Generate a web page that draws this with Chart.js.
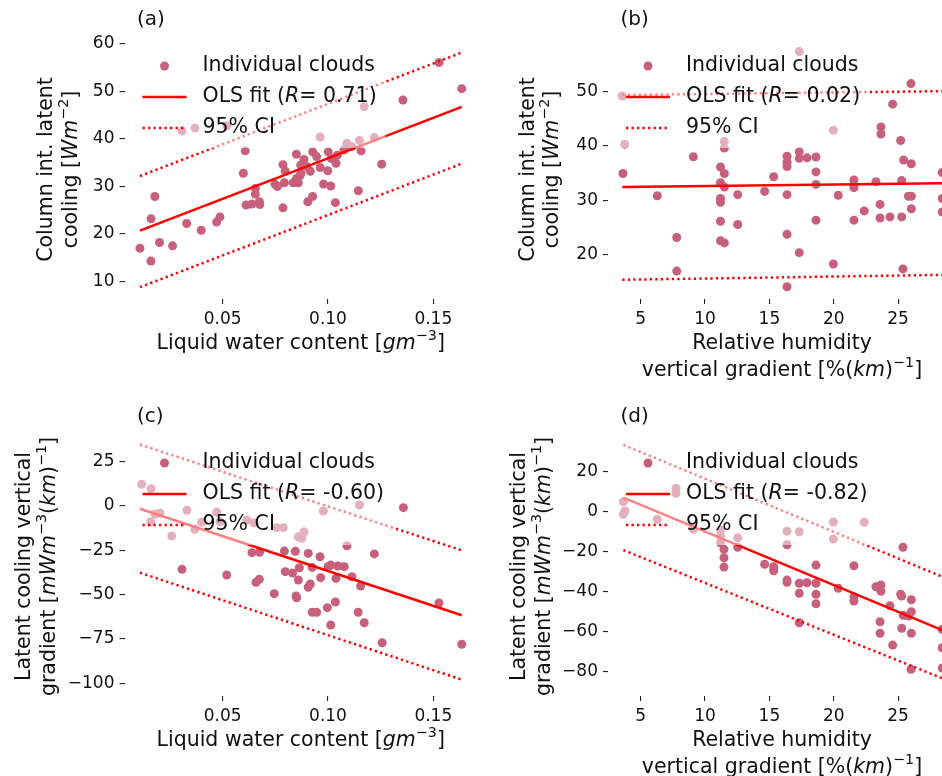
<!DOCTYPE html>
<html>
<head>
<meta charset="utf-8">
<script src="https://cdn.jsdelivr.net/npm/chart.js@4.4.1/dist/chart.umd.min.js"></script>
<style>
  html, body { margin: 0; padding: 0; background: #fff; overflow: hidden; }
  body { width: 942px; height: 776px; position: relative; }
  canvas { position: absolute; }
</style>
</head>
<body>
<canvas id="panelA" width="490" height="388" style="left:0px;top:0px"></canvas>
<canvas id="panelB" width="529" height="388" style="left:471px;top:0px"></canvas>
<canvas id="panelC" width="490" height="388" style="left:0px;top:388px"></canvas>
<canvas id="panelD" width="529" height="388" style="left:471px;top:388px"></canvas>
<script>
// ---- tick labels ----
const lwcTicks = [0.05, 0.10, 0.15];
const rhTicks = [5, 10, 15, 20, 25];
const coolTicksA = [10, 20, 30, 40, 50, 60];
const coolTicksB = [20, 30, 40, 50];
const gradTicksC = [-100, -75, -50, -25, 0, 25];
const gradTicksD = [-80, -60, -40, -20, 0, 20];

// ---- (a) LWC vs column latent cooling ----
const aX = [0.1527, 0.1635, 0.1356, 0.1172, 0.0307, 0.0368, 0.0519, 0.0963, 0.1090, 0.1149, 0.1220, 0.1112,
  0.0607, 0.0598, 0.0178, 0.0160, 0.0329, 0.0471, 0.0487, 0.0398, 0.0655, 0.0655, 0.0611, 0.0639, 0.0674,
  0.0676, 0.0786, 0.0748, 0.0760, 0.0793, 0.0786, 0.0797, 0.0850, 0.0835, 0.0847, 0.0859, 0.0851, 0.0867,
  0.0872, 0.0870, 0.0886, 0.0899, 0.0916, 0.0927, 0.0946, 0.0963, 0.0979, 0.0999, 0.1013, 0.1001, 0.1016,
  0.1038, 0.1044, 0.1076, 0.1157, 0.1255, 0.1144, 0.1035, 0.0904, 0.0927, 0.0107, 0.0159, 0.0200, 0.0262];
const aY = [56.1, 50.6, 48.2, 46.8, 41.7, 42.3, 42.8, 40.4, 39.1, 39.7, 40.3, 38.4,
  37.5, 32.8, 27.9, 23.2, 22.2, 22.5, 23.6, 20.8, 29.6, 28.4, 26.1, 26.3, 26.8,
  26.2, 25.5, 30.5, 30.0, 30.8, 34.6, 33.2, 36.8, 30.8, 31.0, 30.8, 31.7, 32.3,
  32.8, 34.5, 35.7, 34.2, 33.2, 37.3, 36.3, 34.0, 30.5, 33.3, 30.1, 37.3, 35.9,
  34.9, 36.6, 37.7, 37.5, 34.7, 29.1, 26.6, 26.8, 27.9, 17.0, 14.3, 18.2, 17.5];
const aLineX = [0.0107, 0.1635];
const aFit = [20.7, 46.75];
const aCiHi = [32.2, 58.2];
const aCiLo = [8.8, 34.8];

// ---- (b) RH gradient vs column latent cooling ----
const bX = [17.32, 26.0, 3.57, 24.58, 3.76, 11.5, 11.5, 19.97, 23.67, 23.67, 25.2, 9.09, 3.62, 11.2, 11.5,
  11.2, 11.5, 6.29, 11.2, 11.2, 11.2, 11.2, 11.5, 12.54, 12.54, 7.8, 7.8, 14.63, 15.33, 16.37, 16.37, 16.37,
  17.32, 17.32, 17.92, 18.62, 18.62, 18.62, 16.37, 16.37, 17.32, 16.37, 18.62, 20.35, 19.97, 21.57, 21.57,
  21.57, 21.57, 22.37, 23.28, 23.6, 23.6, 24.37, 25.28, 25.28, 25.43, 26.03, 25.8, 26.03, 26.03, 25.38,
  28.43, 28.43, 28.43];
const bY = [57.4, 51.5, 49.2, 47.7, 40.3, 40.8, 39.6, 42.9, 43.5, 42.2, 41.0, 38.0, 34.9, 36.1, 34.9,
  33.2, 32.4, 30.8, 30.3, 29.6, 26.1, 22.5, 22.1, 31.0, 25.5, 23.1, 16.9, 31.6, 34.3, 38.1, 37.0, 36.2,
  38.9, 37.7, 37.8, 37.95, 35.2, 32.9, 31.0, 23.7, 20.3, 14.0, 26.3, 30.9, 18.2, 33.7, 32.8,
  32.3, 26.3, 28.0, 33.4, 29.2, 26.7, 26.9, 26.9, 33.6, 37.4, 36.7, 30.7, 30.7, 28.4, 17.3,
  35.1, 30.3, 27.8];
const bLineX = [3.57, 28.43];
const bFit = [32.4, 33.1];
const bCiHi = [49.4, 50.1];
const bCiLo = [15.3, 16.2];

// ---- (c) LWC vs latent cooling vertical gradient ----
const cX = [0.0115, 0.0160, 0.0202, 0.0179, 0.0158, 0.0258, 0.0330, 0.0368, 0.0400, 0.0471, 0.0487, 0.0614,
  0.0650, 0.0756, 0.0788, 0.0859, 0.0875, 0.0886, 0.0978, 0.1149, 0.1358, 0.0307, 0.0519, 0.0639, 0.0675,
  0.0658, 0.0674, 0.0745, 0.0793, 0.0797, 0.0832, 0.0845, 0.0864, 0.0859, 0.0848, 0.0851, 0.0906, 0.0925,
  0.0916, 0.0906, 0.0925, 0.0946, 0.0962, 0.0965, 0.1001, 0.1013, 0.1038, 0.1047, 0.1077, 0.1090, 0.1114,
  0.1155, 0.1035, 0.0997, 0.1013, 0.1143, 0.1172, 0.1220, 0.1257, 0.1527, 0.1635];
const cY = [12.3, 9.8, -4.1, -4.5, -9.0, -16.9, -2.4, -13.1, -9.2, -3.4, -8.8, -7.9,
  -9.4, -12.2, -12.2, -17.3, -18.2, -14.6, -2.8, 0.6, -0.9, -35.7, -38.9, -26.3, -26.1,
  -43.0, -41.3, -49.4, -25.4, -37.0, -37.8, -25.5, -34.8, -41.7, -50.7, -51.7, -26.7, -34.6,
  -44.0, -45.8, -59.9, -59.9, -28.6, -40.4, -34.2, -33.3, -40.8, -33.8, -34.2, -22.4, -39.9,
  -45.1, -54.1, -57.3, -67.1, -59.9, -65.8, -27.0, -77.1, -54.7, -78.0];
const cLineX = [0.0107, 0.1635];
const cFit = [-1.5, -61.6];
const cCiHi = [34.7, -25.0];
const cCiLo = [-37.6, -97.9];

// ---- (d) RH gradient vs latent cooling vertical gradient ----
const dX = [7.74, 7.74, 3.65, 3.78, 3.65, 6.29, 9.09, 11.2, 11.2, 11.2, 11.47, 11.47, 11.47, 12.54, 12.54,
  16.37, 17.32, 16.37, 19.97, 19.97, 22.37, 25.38, 14.63, 15.33, 15.33, 16.37, 16.37, 17.32, 17.92, 18.62,
  18.62, 18.62, 18.62, 17.32, 17.32, 20.35, 21.57, 21.57, 21.57, 23.28, 23.67, 23.67, 24.37, 23.6, 23.6,
  24.58, 25.2, 25.28, 26.03, 26.03, 25.8, 25.4, 25.28, 26.03, 26.0, 28.43, 28.43, 28.43];
const dY = [11.7, 9.2, 5.0, 0.35, -1.3, -3.8, -8.8, -9.2, -12.2, -15.5, -18.8, -23.0, -27.7, -13.0, -17.8,
  -9.8, -10.0, -16.5, -5.2, -13.7, -5.3, -17.8, -26.3, -27.5, -29.5, -34.2, -35.3, -35.8, -35.5, -26.7,
  -35.8, -41.3, -46.0, -40.8, -55.5, -38.3, -27.0, -42.5, -44.7, -37.5, -36.7, -39.8, -47.0, -55.0, -60.8,
  -66.7, -41.3, -42.2, -44.0, -50.0, -52.2, -51.8, -58.3, -60.8, -78.8, -58.8, -68.0, -78.2];
const dLineX = [3.65, 28.43];
const dFit = [7.0, -59.2];
const dCiHi = [33.4, -32.5];
const dCiLo = [-19.2, -83.3];

const FAMILY = '"DejaVu Sans", sans-serif';
const DOT = '#c7607a';
const RED = '#ff0000';
const INK = '#111111';

function toXY(xs, ys) { return xs.map((x, i) => ({ x: x, y: ys[i] })); }

// rich text: strings are upright, {t, it} italic, {t, sup} superscript
function norm(s) { return typeof s === 'string' ? { t: s } : s; }
function segFont(s, size) {
    const sz = s.sup ? size * 0.7 : size;
    return (s.it ? 'italic ' : '') + sz + 'px ' + FAMILY;
}
function richWidth(ctx, segs, size) {
    let w = 0;
    segs.map(norm).forEach(s => { ctx.font = segFont(s, size); w += ctx.measureText(s.t).width; });
    return w;
}
function drawRich(ctx, segs, x, y, size, align) {
    const w = richWidth(ctx, segs, size);
    let cx = align === 'center' ? x - w / 2 : x;
    ctx.textBaseline = 'middle';
    ctx.textAlign = 'left';
    ctx.fillStyle = INK;
    segs.map(norm).forEach(s => {
        ctx.font = segFont(s, size);
        ctx.fillText(s.t, cx, s.sup ? y - size * 0.36 : y);
        cx += ctx.measureText(s.t).width;
    });
}

function decoPlugin(cfg) {
    return {
        id: 'deco',
        afterDatasetsDraw(chart) {
            // legend box (half transparent, lightens what lies under it)
            const ctx = chart.ctx, a = chart.chartArea;
            const L = a.left, T = a.top;
            const rows = [T + 26, T + 57, T + 88];
            const textX = L + 78;
            const labels = [
                ['Individual clouds'],
                ['OLS fit (', { t: 'R', it: true }, '= ' + cfg.r + ')'],
                ['95% CI']
            ];
            const w = Math.max(...labels.map(l => richWidth(ctx, l, 20.5)));
            ctx.save();
            ctx.fillStyle = 'rgba(255,255,255,0.5)';
            ctx.beginPath();
            ctx.roundRect(L + 10, T + 5, textX + w + 9 - (L + 10), rows[2] + 20 - (T + 5), 4);
            ctx.fill();
            ctx.fillStyle = DOT;
            ctx.beginPath();
            ctx.arc(L + 40, rows[0], 4.5, 0, Math.PI * 2);
            ctx.fill();
            ctx.strokeStyle = RED;
            ctx.lineWidth = 2.5;
            ctx.beginPath();
            ctx.moveTo(L + 18, rows[1]); ctx.lineTo(L + 62, rows[1]);
            ctx.stroke();
            ctx.setLineDash([2.3, 3.2]);
            ctx.beginPath();
            ctx.moveTo(L + 18, rows[2]); ctx.lineTo(L + 62, rows[2]);
            ctx.stroke();
            ctx.setLineDash([]);
            labels.forEach((l, i) => drawRich(ctx, l, textX, rows[i], 20.5, 'left'));
            ctx.restore();
        },
        afterDraw(chart) {
            const ctx = chart.ctx, a = chart.chartArea;
            ctx.save();
            drawRich(ctx, [cfg.tag], a.left + 12.5, a.top - 20, 20, 'left');
            const cx = (a.left + a.right) / 2;
            cfg.xTitle.forEach((line, i) => drawRich(ctx, line, cx, a.bottom + 45 + i * 27, 20.5, 'center'));
            const cy = (a.top + a.bottom) / 2;
            cfg.yTitle.forEach((line, i) => {
                ctx.save();
                ctx.translate(a.left + cfg.yOff[i], cy);
                ctx.rotate(-Math.PI / 2);
                drawRich(ctx, line, 0, 0, 20.5, 'center');
                ctx.restore();
            });
            ctx.restore();
        }
    };
}

function axis(min, max, ticks, fmt, fitFn) {
    return {
        type: 'linear', min: min, max: max,
        border: { display: false },
        grid: { drawOnChartArea: false, drawTicks: true, tickLength: 5, color: '#222', lineWidth: 1.1 },
        ticks: { font: { family: FAMILY, size: 17 }, color: INK, padding: 5, maxRotation: 0, autoSkip: false, callback: fmt },
        afterBuildTicks: s => { s.ticks = ticks.map(v => ({ value: v })); },
        afterFit: fitFn
    };
}

function makePanel(id, cfg) {
    const lineStyle = { showLine: true, borderColor: RED, borderWidth: 2.5, pointRadius: 0, clip: false };
    return new Chart(document.getElementById(id), {
        type: 'scatter',
        data: {
            datasets: [
                Object.assign({ data: toXY(cfg.lineX, cfg.fit), order: 1 }, lineStyle),
                Object.assign({ data: toXY(cfg.lineX, cfg.ciHi), borderDash: [2.3, 3.2], order: 2 }, lineStyle),
                Object.assign({ data: toXY(cfg.lineX, cfg.ciLo), borderDash: [2.3, 3.2], order: 3 }, lineStyle),
                { data: toXY(cfg.px, cfg.py), pointRadius: 4.5, backgroundColor: DOT, borderWidth: 0, order: 4, clip: false }
            ]
        },
        options: {
            responsive: false, animation: false, events: [], devicePixelRatio: 1,
            layout: { padding: { top: cfg.padTop, right: cfg.padRight, left: 0, bottom: 0 } },
            plugins: { legend: { display: false }, tooltip: { enabled: false } },
            scales: {
                x: axis(cfg.xMin, cfg.xMax, cfg.xTicks, cfg.xFmt, s => { s.height = cfg.xSpace; }),
                y: axis(cfg.yMin, cfg.yMax, cfg.yTicks, v => String(v).replace('-', '\u2212'), s => { s.width = cfg.ySpace; })
            }
        },
        plugins: [decoPlugin(cfg)]
    });
}

const lwcFmt = v => v.toFixed(2);
const rhFmt = v => String(v);
const lwcTitle = [['Liquid water content [', { t: 'gm', it: true }, { t: '\u22123', sup: true }, ']']];
const rhTitle = [['Relative humidity'], ['vertical gradient [%(', { t: 'km', it: true }, ')', { t: '\u22121', sup: true }, ']']];
const coolTitle = [['Column int. latent'], ['cooling [', { t: 'Wm', it: true }, { t: '\u22122', sup: true }, ']']];
const gradTitle = [['Latent cooling vertical'], ['gradient [', { t: 'mWm', it: true }, { t: '\u22123', sup: true }, '(', { t: 'km', it: true }, ')', { t: '\u22121', sup: true }, ']']];

makePanel('panelA', {
    tag: '(a)', r: '0.71', px: aX, py: aY, lineX: aLineX, fit: aFit, ciHi: aCiHi, ciLo: aCiLo,
    xMin: 0.00337, xMax: 0.17075, yMin: 6.316, yMax: 60.84, xTicks: lwcTicks, yTicks: coolTicksA, xFmt: lwcFmt,
    padTop: 40, padRight: 13, xSpace: 89, ySpace: 124.5,
    xTitle: lwcTitle, yTitle: coolTitle, yOff: [-77.5, -52.5]
});
makePanel('panelB', {
    tag: '(b)', r: '0.02', px: bX, py: bY, lineX: bLineX, fit: bFit, ciHi: bCiHi, ciLo: bCiLo,
    xMin: 2.459, xMax: 29.5, yMin: 11.75, yMax: 59.54, xTicks: rhTicks, yTicks: coolTicksB, xFmt: rhFmt,
    padTop: 40, padRight: 44, xSpace: 89, ySpace: 137,
    xTitle: rhTitle, yTitle: coolTitle, yOff: [-79, -55]
});
makePanel('panelC', {
    tag: '(c)', r: '-0.60', px: cX, py: cY, lineX: cLineX, fit: cFit, ciHi: cCiHi, ciLo: cCiLo,
    xMin: 0.00337, xMax: 0.17075, yMin: -107.13, yMax: 38.93, xTicks: lwcTicks, yTicks: gradTicksC, xFmt: lwcFmt,
    padTop: 49, padRight: 13, xSpace: 80, ySpace: 124.5,
    xTitle: lwcTitle, yTitle: gradTitle, yOff: [-99.5, -74.5]
});
makePanel('panelD', {
    tag: '(d)', r: '-0.82', px: dX, py: dY, lineX: dLineX, fit: dFit, ciHi: dCiHi, ciLo: dCiLo,
    xMin: 2.459, xMax: 29.5, yMin: -92.15, yMax: 37.35, xTicks: rhTicks, yTicks: gradTicksD, xFmt: rhFmt,
    padTop: 49, padRight: 44, xSpace: 80, ySpace: 137,
    xTitle: rhTitle, yTitle: gradTitle, yOff: [-88, -63]
});
</script>
</body>
</html>
